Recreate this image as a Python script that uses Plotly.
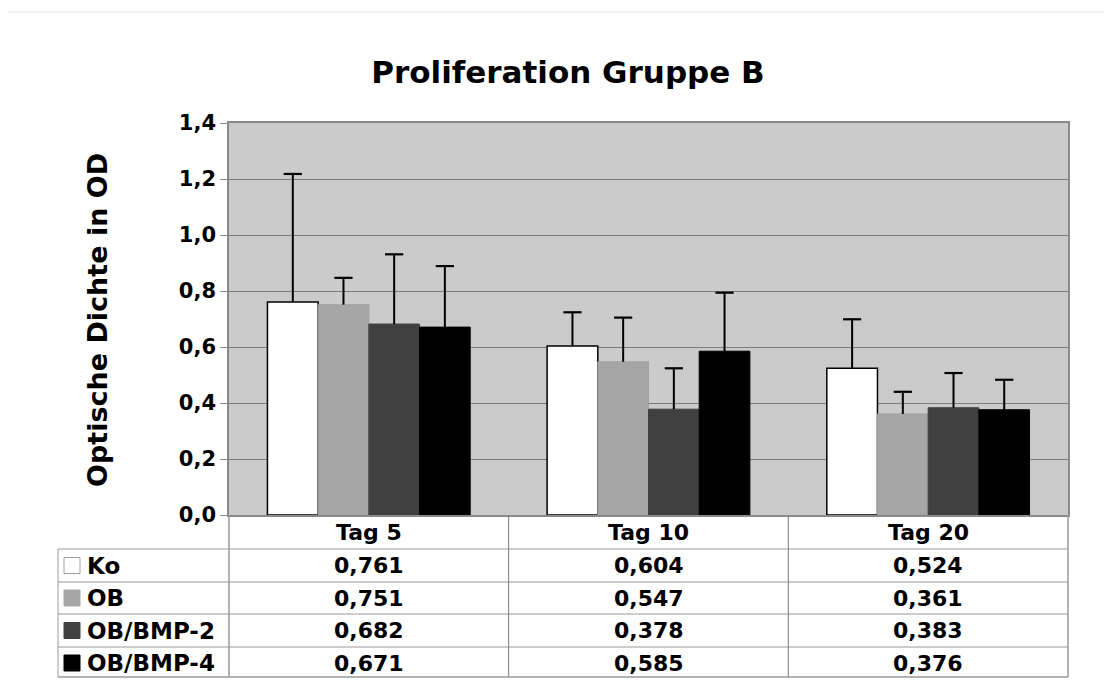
import plotly.graph_objects as go

# ---------------- data ----------------
categories = ["Tag 5", "Tag 10", "Tag 20"]
series_names = ["Ko", "OB", "OB/BMP-2", "OB/BMP-4"]
ko = [0.761, 0.604, 0.524]
ob = [0.751, 0.547, 0.361]
ob_bmp2 = [0.682, 0.378, 0.383]
ob_bmp4 = [0.671, 0.585, 0.376]
ko_err = [0.457, 0.120, 0.175]
ob_err = [0.096, 0.158, 0.079]
ob_bmp2_err = [0.249, 0.146, 0.124]
ob_bmp4_err = [0.218, 0.209, 0.107]
y_tick_vals = [0.0, 0.2, 0.4, 0.6, 0.8, 1.0, 1.2, 1.4]

series_values = [ko, ob, ob_bmp2, ob_bmp4]
series_errors = [ko_err, ob_err, ob_bmp2_err, ob_bmp4_err]
fill_colors = ["#ffffff", "#a6a6a6", "#404040", "#000000"]
line_colors = ["#000000", "#a0a0a0", "#404040", "#000000"]

# ---------------- layout geometry (page pixels) ----------------
OFF = 8  # default page body margin
W, H = 1112 - 2 * OFF, 686 - 2 * OFF
PL, PR, PT, PB = 229, 1068, 123, 515
PW, PHt = PR - PL, PB - PT

def px(x):
    return (x - PL) / PW

def py(y):
    return (PB - y) / PHt

FONT = "DejaVu Sans"
fig = go.Figure()

for name, vals, errs, fc, lc in zip(series_names, series_values, series_errors, fill_colors, line_colors):
    fig.add_trace(go.Bar(
        name=name, x=categories, y=vals, offsetgroup=name,
        marker=dict(color=fc, line=dict(color=lc, width=1.5 if name == "Ko" else 1)),
        error_y=dict(type="data", symmetric=False, array=errs,
                     arrayminus=[0] * len(errs), color="#000000",
                     thickness=2, width=0),
        showlegend=False, hoverinfo="skip",
    ))
# error-bar caps (top only), aligned with the bar groups
for name, vals, errs in zip(series_names, series_values, series_errors):
    fig.add_trace(go.Scatter(
        x=categories, y=[v + e for v, e in zip(vals, errs)], offsetgroup=name,
        mode="markers",
        marker=dict(symbol="line-ew-open", size=13, color="#000000",
                    line=dict(color="#000000", width=2.2)),
        showlegend=False, hoverinfo="skip",
    ))

shapes = []
annotations = []
grid_col = "#9a9a9a"
TB = 677  # table bottom (kept inside visible page)
row_lines = [549, 582, 614, 647, TB]
row_centers = [565.5, 598, 630.5, 663]
header_center = 532
for yl in row_lines:
    shapes.append(dict(type="line", xref="paper", yref="paper",
                       x0=px(58), x1=1, y0=py(yl), y1=py(yl),
                       line=dict(color=grid_col, width=1.5 if yl == TB else 1)))
shapes.append(dict(type="line", xref="paper", yref="paper", x0=px(58), x1=px(58),
                   y0=py(549), y1=py(TB), line=dict(color=grid_col, width=1)))
for xv in [0, 1]:
    shapes.append(dict(type="line", xref="paper", yref="paper", x0=xv, x1=xv,
                       y0=0, y1=py(TB), line=dict(color=grid_col, width=1.5)))
for bnd in [0.5, 1.5]:
    shapes.append(dict(type="line", xref="x", yref="paper", x0=bnd, x1=bnd,
                       y0=0, y1=py(TB), line=dict(color="#7a7a7a", width=1)))
# outer faint frame (top)
shapes.append(dict(type="line", xref="paper", yref="paper", x0=px(8), x1=px(1112),
                   y0=py(12), y1=py(12), line=dict(color="#e6e6e6", width=1)))

tfont = dict(family=FONT, size=22, color="#000000", weight="bold")
lfont = dict(family=FONT, size=23, color="#000000", weight="bold")
for cat in categories:
    annotations.append(dict(x=cat, xref="x", y=py(header_center), yref="paper",
                            text=cat, showarrow=False, font=tfont,
                            xanchor="center", yanchor="middle"))
for name, vals, fc, lc, yc in zip(series_names, series_values, fill_colors, line_colors, row_centers):
    for cat, v in zip(categories, vals):
        annotations.append(dict(x=cat, xref="x", y=py(yc), yref="paper",
                                text=f"{v:.3f}".replace(".", ","), showarrow=False,
                                font=tfont, xanchor="center", yanchor="middle"))
    annotations.append(dict(x=px(85), xref="paper", y=py(yc), yref="paper",
                            text=name, showarrow=False, font=lfont,
                            xanchor="left", yanchor="middle"))
    shapes.append(dict(type="rect", xref="paper", yref="paper",
                       x0=px(64), x1=px(80), y0=py(yc - 8), y1=py(yc + 8),
                       fillcolor=fc, line=dict(color="#a0a0a0" if name == "Ko" else fc, width=1)))

annotations.append(dict(x=px(97), xref="paper", y=py(320), yref="paper",
                        text="Optische Dichte in OD", textangle=-90, showarrow=False,
                        font=dict(family=FONT, size=27, color="#000000", weight="bold"),
                        xanchor="center", yanchor="middle"))

fig.update_layout(
    width=W, height=H,
    margin=dict(l=PL - OFF, r=W - (PR - OFF), t=PT - OFF, b=H - (PB - OFF)),
    paper_bgcolor="#ffffff", plot_bgcolor="#cbcbcb",
    separators=",.",
    barmode="group", bargap=0.275, bargroupgap=0,
    scattermode="group", scattergap=0.275,
    title=dict(text="<b>Proliferation Gruppe B</b>", x=(568 - OFF) / W, xref="container",
               y=1 - (72 - OFF) / H, yref="container", xanchor="center", yanchor="middle",
               font=dict(family=FONT, size=31, color="#000000")),
    xaxis=dict(range=[-0.5, 2.5], showticklabels=False, ticks="", showgrid=False,
               showline=True, linecolor="#8a8a8a", linewidth=1.5, mirror=True,
               zeroline=False, fixedrange=True),
    yaxis=dict(range=[0, 1.4], tickvals=y_tick_vals, tickformat=".1f",
               ticks="outside", ticklen=7, tickcolor="#8a8a8a", tickwidth=1,
               tickfont=dict(family=FONT, size=21, color="#000000", weight="bold"),
               showgrid=True, gridcolor="#7c7c7c", gridwidth=1,
               showline=True, linecolor="#8a8a8a", linewidth=1.5, mirror=True,
               zeroline=False, fixedrange=True),
    shapes=shapes, annotations=annotations,
)

fig.write_html("out.html")
